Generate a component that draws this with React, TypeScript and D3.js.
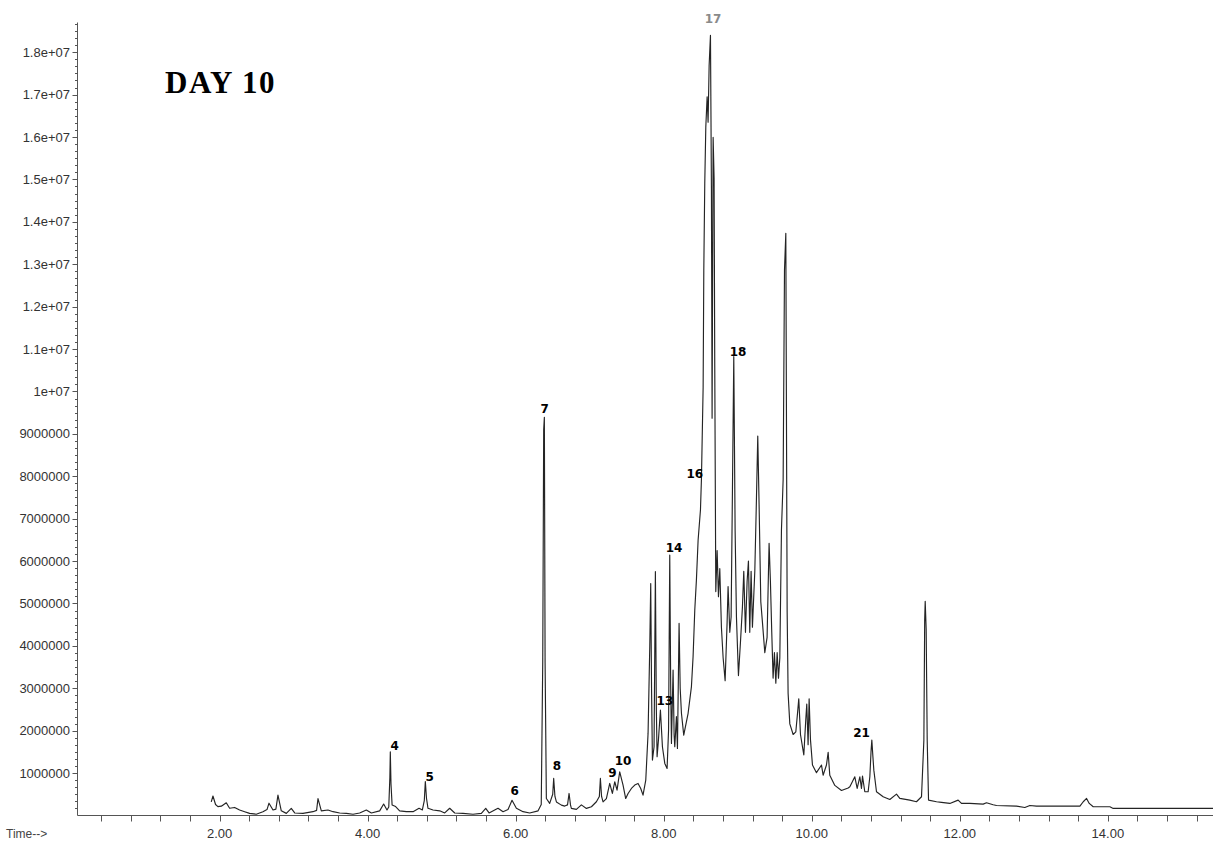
import React from 'react';
import * as d3 from 'd3';

const WIDTH = 1213;
const HEIGHT = 844;

// Total-ion chromatogram: [retention time (min), abundance (millions of counts)]
const ticTrace: [number, number][] = [
  [1.887, 0.32], [1.91, 0.46], [1.945, 0.26], [1.977, 0.21], [2.023, 0.22], [2.09, 0.3], [2.135, 0.17],
  [2.203, 0.19], [2.27, 0.13], [2.338, 0.09], [2.405, 0.05], [2.495, 0.03], [2.585, 0.09], [2.64, 0.14],
  [2.667, 0.29], [2.721, 0.13], [2.76, 0.15], [2.788, 0.48], [2.833, 0.11], [2.901, 0.05], [2.968, 0.17],
  [3.014, 0.06], [3.126, 0.05], [3.261, 0.09], [3.31, 0.12], [3.329, 0.4], [3.374, 0.11], [3.464, 0.13],
  [3.532, 0.09], [3.622, 0.06], [3.712, 0.05], [3.802, 0.03], [3.892, 0.06], [3.982, 0.13], [4.05, 0.06],
  [4.162, 0.11], [4.216, 0.27], [4.261, 0.13], [4.285, 0.2], [4.3, 0.9], [4.306, 1.5], [4.315, 0.75],
  [4.33, 0.25], [4.378, 0.21], [4.432, 0.11], [4.523, 0.09], [4.613, 0.09], [4.694, 0.17], [4.739, 0.13],
  [4.765, 0.35], [4.779, 0.8], [4.795, 0.4], [4.815, 0.17], [4.883, 0.13], [4.973, 0.11], [5.041, 0.06],
  [5.108, 0.17], [5.176, 0.06], [5.288, 0.05], [5.423, 0.03], [5.536, 0.05], [5.595, 0.17], [5.64, 0.06],
  [5.716, 0.13], [5.761, 0.17], [5.829, 0.09], [5.896, 0.14], [5.95, 0.36], [6.009, 0.17], [6.099, 0.09],
  [6.189, 0.06], [6.302, 0.11], [6.345, 0.26], [6.365, 3.6], [6.378, 9.1], [6.387, 9.39], [6.397, 3.6],
  [6.414, 0.4], [6.459, 0.285], [6.5, 0.5], [6.513, 0.874], [6.53, 0.45], [6.55, 0.32], [6.617, 0.245],
  [6.662, 0.222], [6.7, 0.25], [6.721, 0.52], [6.74, 0.25], [6.752, 0.167], [6.82, 0.143], [6.887, 0.25],
  [6.955, 0.167], [7.023, 0.206], [7.09, 0.324], [7.13, 0.45], [7.144, 0.874], [7.16, 0.45], [7.18, 0.32],
  [7.225, 0.4], [7.27, 0.756], [7.306, 0.52], [7.338, 0.796], [7.369, 0.599], [7.405, 1.031], [7.45, 0.717],
  [7.486, 0.4], [7.518, 0.52], [7.563, 0.638], [7.608, 0.717], [7.653, 0.756], [7.689, 0.638], [7.72, 0.481],
  [7.757, 0.835], [7.788, 1.936], [7.811, 3.98], [7.824, 5.47], [7.835, 3.0], [7.847, 1.307], [7.869, 1.621],
  [7.887, 5.75], [7.9, 2.5], [7.91, 1.385], [7.928, 1.778], [7.955, 2.486], [7.982, 1.621], [8.014, 1.228],
  [8.045, 1.11], [8.065, 2.014], [8.081, 6.14], [8.094, 3.0], [8.104, 1.7], [8.126, 3.43], [8.14, 1.9],
  [8.149, 1.621], [8.171, 2.33], [8.185, 1.58], [8.207, 4.53], [8.222, 3.0], [8.239, 2.41], [8.27, 1.896],
  [8.329, 2.41], [8.374, 3.04], [8.396, 3.74], [8.419, 4.84], [8.441, 5.55], [8.464, 6.49], [8.496, 7.21],
  [8.509, 7.93], [8.532, 10.1], [8.541, 12.86], [8.554, 14.9], [8.568, 16.23], [8.586, 16.95], [8.599, 16.35],
  [8.613, 17.68], [8.631, 18.4], [8.644, 14.79], [8.653, 9.37], [8.667, 15.99], [8.68, 15.03], [8.689, 10.59],
  [8.703, 5.28], [8.721, 6.25], [8.739, 5.16], [8.757, 5.82], [8.779, 4.44], [8.802, 3.72], [8.829, 3.18],
  [8.856, 4.56], [8.869, 5.4], [8.892, 4.32], [8.91, 4.68], [8.928, 7.69], [8.946, 10.82], [8.964, 6.73],
  [8.982, 4.68], [9.009, 3.3], [9.036, 4.08], [9.063, 4.92], [9.081, 5.76], [9.104, 4.32], [9.126, 5.52],
  [9.144, 6.0], [9.162, 4.32], [9.18, 5.76], [9.198, 4.44], [9.23, 5.76], [9.252, 7.45], [9.27, 8.95],
  [9.288, 7.33], [9.311, 5.04], [9.333, 4.56], [9.365, 3.84], [9.396, 4.2], [9.414, 5.7], [9.423, 6.42],
  [9.441, 5.52], [9.459, 4.32], [9.477, 3.24], [9.495, 3.84], [9.514, 3.12], [9.532, 3.84], [9.55, 3.24],
  [9.568, 3.72], [9.59, 6.73], [9.613, 7.93], [9.631, 12.86], [9.649, 13.73], [9.667, 4.8], [9.68, 2.88],
  [9.703, 2.16], [9.748, 1.91], [9.784, 1.97], [9.806, 2.39], [9.824, 2.75], [9.847, 1.91], [9.892, 1.43],
  [9.919, 2.27], [9.932, 2.63], [9.95, 1.67], [9.964, 2.75], [9.982, 1.79], [10.009, 1.19], [10.063, 1.01],
  [10.131, 1.19], [10.153, 0.95], [10.198, 1.19], [10.221, 1.49], [10.243, 0.95], [10.311, 0.71],
  [10.401, 0.59], [10.491, 0.65], [10.514, 0.678], [10.536, 0.756], [10.581, 0.913], [10.613, 0.638],
  [10.649, 0.913], [10.671, 0.638], [10.685, 0.929], [10.716, 0.56], [10.761, 0.56], [10.784, 0.913],
  [10.8, 1.5], [10.811, 1.778], [10.825, 1.4], [10.838, 1.07], [10.874, 0.56], [10.964, 0.442],
  [11.054, 0.379], [11.144, 0.505], [11.189, 0.403], [11.324, 0.363], [11.414, 0.324], [11.482, 0.442],
  [11.514, 1.778], [11.525, 4.6], [11.532, 5.05], [11.545, 4.4], [11.559, 1.778], [11.577, 0.363],
  [11.685, 0.324], [11.752, 0.308], [11.865, 0.285], [11.977, 0.363], [12.022, 0.285], [12.135, 0.285],
  [12.315, 0.269], [12.36, 0.3], [12.45, 0.253], [12.495, 0.237], [12.766, 0.222], [12.878, 0.19],
  [12.946, 0.237], [13.036, 0.222], [13.622, 0.222], [13.667, 0.324], [13.712, 0.403], [13.748, 0.285],
  [13.802, 0.206], [14.027, 0.206], [14.072, 0.167], [15.42, 0.167],
];

// Peak numbers: [label, retention time of text anchor, abundance (millions) of text baseline]
const peakLabels: [string, number, number][] = [
  ['4', 4.365, 1.54],
  ['5', 4.838, 0.82],
  ['6', 5.986, 0.49],
  ['7', 6.392, 9.48],
  ['8', 6.558, 1.07],
  ['9', 7.307, 0.9],
  ['10', 7.45, 1.2],
  ['13', 8.014, 2.61],
  ['14', 8.139, 6.22],
  ['16', 8.419, 7.95],
  ['17', 8.666, 18.68],
  ['18', 9.004, 10.84],
  ['21', 10.672, 1.86],
];

const yTickValues = [1e6, 2e6, 3e6, 4e6, 5e6, 6e6, 7e6, 8e6, 9e6, 1e7, 1.1e7, 1.2e7, 1.3e7, 1.4e7, 1.5e7, 1.6e7, 1.7e7, 1.8e7];
const yTickLabels = [
  '1000000', '2000000', '3000000', '4000000', '5000000', '6000000', '7000000', '8000000', '9000000',
  '1e+07', '1.1e+07', '1.2e+07', '1.3e+07', '1.4e+07', '1.5e+07', '1.6e+07', '1.7e+07', '1.8e+07',
];
const xTickValues = [2, 4, 6, 8, 10, 12, 14];
const xTickLabels = ['2.00', '4.00', '6.00', '8.00', '10.00', '12.00', '14.00'];

const X_DOMAIN: [number, number] = [0.08, 15.42];
const Y_MAX = 18.7e6;
const X_MINOR_STEP = 0.4;
const Y_MINOR_STEP = 1e6 / 6;

const AXIS_FONT = 'Arial, "Liberation Sans", sans-serif';

export default function App() {
  const left = 77.5;
  const right = WIDTH;
  const baseY = 815.5;
  const topY = 22.5;

  const x = d3.scaleLinear().domain(X_DOMAIN).range([left, right]);
  const y = d3.scaleLinear().domain([0, Y_MAX]).range([baseY, topY]);

  const line = d3
    .line<[number, number]>()
    .x((d) => x(d[0]))
    .y((d) => y(d[1] * 1e6));

  const xMinor = d3.range(X_MINOR_STEP, X_DOMAIN[1], X_MINOR_STEP);
  const yMinor = d3.range(Y_MINOR_STEP, Y_MAX, Y_MINOR_STEP);

  return (
    <div style={{ position: 'absolute', left: 0, top: 0 }}>
      <svg width={WIDTH} height={HEIGHT} style={{ display: 'block', background: '#fff' }}>
        <rect width={WIDTH} height={HEIGHT} fill="#fff" />

        <text x={165} y={93} fontFamily='"Liberation Serif", "Times New Roman", serif' fontWeight="bold" fontSize={31} letterSpacing={1.5} fill="#000">
          DAY 10
        </text>

        {/* y axis */}
        <line x1={left} x2={left} y1={baseY} y2={topY} stroke="#555" strokeWidth={1} />
        {yMinor.map((v, i) => (
          <line key={'ym' + i} x1={left - 2.5} x2={left} y1={Math.round(y(v)) + 0.5} y2={Math.round(y(v)) + 0.5} stroke="#555" strokeWidth={1} />
        ))}
        {yTickValues.map((v, i) => (
          <g key={'yt' + i}>
            <line x1={left - 5} x2={left} y1={Math.round(y(v)) + 0.5} y2={Math.round(y(v)) + 0.5} stroke="#555" strokeWidth={1} />
            <text x={left - 7.5} y={y(v)} dy="0.35em" textAnchor="end" fontFamily={AXIS_FONT} fontSize={13} fill="#333">
              {yTickLabels[i]}
            </text>
          </g>
        ))}

        {/* x axis */}
        <line x1={left} x2={right} y1={baseY} y2={baseY} stroke="#555" strokeWidth={1} />
        {xMinor.map((t, i) => (
          <line key={'xm' + i} x1={Math.round(x(t)) + 0.5} x2={Math.round(x(t)) + 0.5} y1={baseY} y2={baseY + 6} stroke="#555" strokeWidth={1} />
        ))}
        {xTickValues.map((t, i) => (
          <text key={'xt' + i} x={x(t)} y={837.5} textAnchor="middle" fontFamily={AXIS_FONT} fontSize={13} fill="#333">
            {xTickLabels[i]}
          </text>
        ))}
        <text x={6} y={837.5} fontFamily={AXIS_FONT} fontSize={12} fill="#444">
          Time--&gt;
        </text>

        {/* chromatogram trace */}
        <path d={line(ticTrace) || ''} fill="none" stroke="#242424" strokeWidth={1.15} strokeLinejoin="round" />

        {/* peak numbers */}
        {peakLabels.map(([lab, t, v]) => (
          <text
            key={'pk' + lab}
            x={x(t)}
            y={y(v * 1e6)}
            textAnchor="middle"
            fontFamily='"DejaVu Sans", Verdana, sans-serif'
            fontWeight="bold"
            fontSize={12}
            fill={lab === '17' ? '#8a8a8a' : '#000'}
          >
            {lab}
          </text>
        ))}
      </svg>
    </div>
  );
}
